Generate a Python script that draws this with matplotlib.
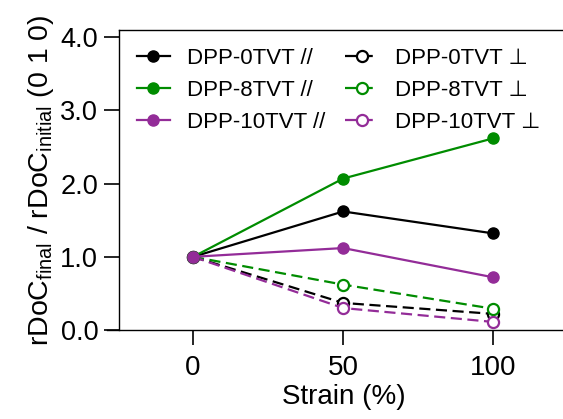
import matplotlib
matplotlib.use('Agg')
import matplotlib.pyplot as plt
from matplotlib.ticker import FormatStrFormatter

plt.rcParams['font.family'] = ['Liberation Sans', 'DejaVu Sans']

# strain steps and normalised rDoC (0 1 0)
strain = [0, 50, 100]
par_0tvt = [1.0, 1.62, 1.32]
par_8tvt = [1.0, 2.07, 2.62]
par_10tvt = [1.0, 1.12, 0.72]
perp_0tvt = [1.0, 0.37, 0.22]
perp_8tvt = [1.0, 0.62, 0.29]
perp_10tvt = [1.0, 0.30, 0.11]

names = ['DPP-0TVT', 'DPP-8TVT', 'DPP-10TVT']
colors = ['black', '#008c00', '#932c98']

fig = plt.figure(figsize=(5.63, 4.19), dpi=100)
ax = fig.add_axes([119 / 563, 89 / 419, 450 / 563, 300 / 419])

# perpendicular series first so the filled markers sit on top at 0 %
perp = []
for vals, name, c in zip([perp_0tvt, perp_8tvt, perp_10tvt], names, colors):
    ln, = ax.plot(strain, vals, color=c, lw=1.6, ls=(0, (5, 2.5)),
                  marker='o', ms=8, mfc='white', mec=c, mew=1.6,
                  label=name + ' \u22a5')
    perp.append(ln)

par = []
for vals, name, c in zip([par_0tvt, par_8tvt, par_10tvt], names, colors):
    ln, = ax.plot(strain, vals, color=c, lw=1.6, marker='o', ms=8,
                  mec=c, label=name + ' //')
    par.append(ln)

ax.set_xlim(-24.67, 125.2)
ax.set_ylim(0, 4.1)
ax.set_xticks([0, 50, 100])
ax.set_yticks([0, 1, 2, 3, 4])
ax.yaxis.set_major_formatter(FormatStrFormatter('%.1f'))
ax.tick_params(axis='x', direction='out', length=11, width=1.2, pad=7, labelsize=20)
ax.tick_params(axis='y', direction='out', length=11, width=1.2, pad=4, labelsize=19.5)

for s in ax.spines.values():
    s.set_linewidth(1.0)
ax.spines['right'].set_visible(False)
ax.spines['bottom'].set_bounds(-28.67, 125.2)

ax.set_xlabel('Strain (%)', fontsize=20, labelpad=2)
ax.set_ylabel(r'rDoC$_{\mathregular{final}}$ / rDoC$_{\mathregular{initial}}$ (0 1 0)',
              fontsize=20.5, labelpad=3)

ax.legend(handles=par + perp, ncol=2, loc='upper left', fontsize=16,
          frameon=False, handlelength=1.5, handletextpad=0.75,
          columnspacing=0.9, labelspacing=0.5, borderaxespad=0.4,
          bbox_to_anchor=(0.0, 1.0))

fig.savefig('out.png', dpi=100)
